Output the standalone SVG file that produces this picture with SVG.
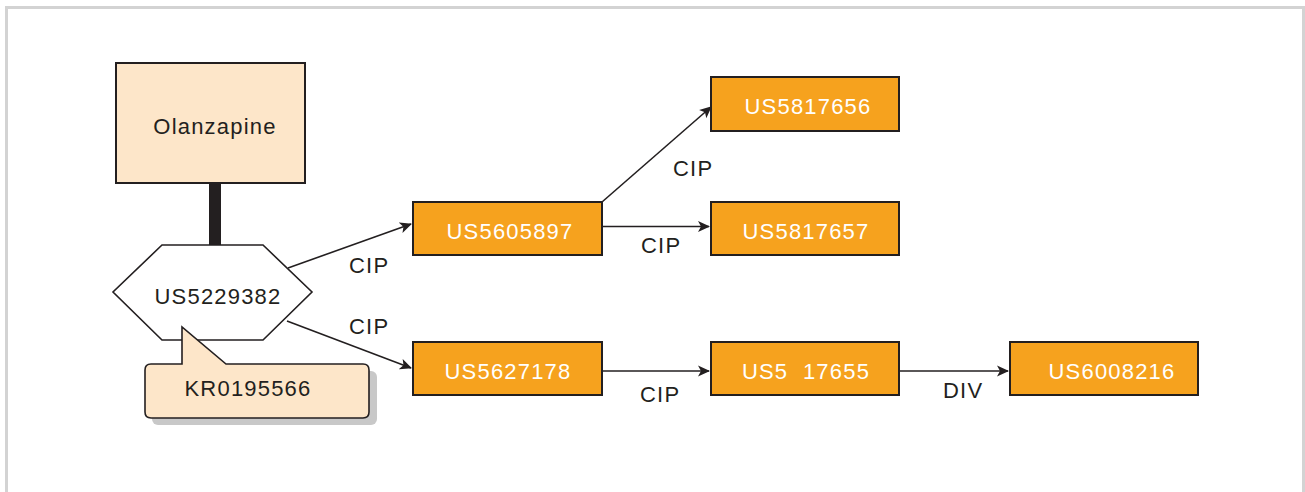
<svg xmlns="http://www.w3.org/2000/svg" width="1305" height="492" viewBox="0 0 1305 492">
  <style>
    .frame { fill: none; stroke: #d3d3d3; stroke-width: 3; }
    .txt { font-family: "Liberation Sans", Arial, sans-serif; font-size: 22px; letter-spacing: 1.2px; fill: #231f20; }
    .wtxt { font-family: "Liberation Sans", Arial, sans-serif; font-size: 22px; letter-spacing: 1.2px; fill: #ffffff; }
    .lbl { font-family: "Liberation Sans", Arial, sans-serif; font-size: 22px; letter-spacing: 1.2px; fill: #231f20; }
    .patent { fill: #f6a21e; stroke: #231f20; stroke-width: 2; }
    .drug { fill: #fde6c9; stroke: #231f20; stroke-width: 2; }
    .edge { fill: none; stroke: #231f20; stroke-width: 1.6; }
  </style>
  <defs>
    <marker id="arrow" viewBox="0 0 12 12" refX="11" refY="6" markerWidth="12" markerHeight="12" markerUnits="userSpaceOnUse" orient="auto">
      <path d="M0,0.5 L12,6 L0,11.5 L3,6 Z" fill="#231f20"/>
    </marker>
  </defs>

  <rect width="1305" height="492" fill="#ffffff"/>
  <!-- outer panel border, open at the bottom -->
  <path class="frame" d="M6.5,492 V7.5 H1303.5 V492"/>

  <!-- connectors -->
  <g id="connectors">
    <rect x="209" y="183" width="12" height="62" fill="#231f20"/>
    <line class="edge" x1="288" y1="268" x2="411" y2="224" marker-end="url(#arrow)"/>
    <line class="edge" x1="287" y1="321" x2="411" y2="368" marker-end="url(#arrow)"/>
    <line class="edge" x1="602" y1="202" x2="711" y2="107" marker-end="url(#arrow)"/>
    <line class="edge" x1="602" y1="226.5" x2="709" y2="226.5" marker-end="url(#arrow)"/>
    <line class="edge" x1="602" y1="371" x2="709" y2="371" marker-end="url(#arrow)"/>
    <line class="edge" x1="899" y1="371" x2="1008" y2="371" marker-end="url(#arrow)"/>
    <text class="lbl" x="349" y="273">CIP</text>
    <text class="lbl" x="349" y="334">CIP</text>
    <text class="lbl" x="673" y="176">CIP</text>
    <text class="lbl" x="641" y="253">CIP</text>
    <text class="lbl" x="640" y="402">CIP</text>
    <text class="lbl" x="943" y="398">DIV</text>
  </g>

  <g id="olanzapine">
    <rect class="drug" x="116" y="63" width="189" height="120"/>
    <text class="txt" x="215" y="134" text-anchor="middle">Olanzapine</text>
  </g>

  <g id="us5229382">
    <polygon points="162,245 263,245 312,292 263,340 162,340 113,292" fill="#ffffff" stroke="#231f20" stroke-width="1.6"/>
    <text class="txt" x="218" y="304" text-anchor="middle">US5229382</text>
  </g>

  <g id="kr0195566">
    <rect x="152" y="371" width="225" height="54" rx="6" fill="#c8c8c8"/>
    <path d="M151,364 H182 V327 L226,364 H363 Q369,364 369,370 V412 Q369,418 363,418 H151 Q145,418 145,412 V370 Q145,364 151,364 Z" fill="#fde6c9" stroke="#231f20" stroke-width="1.6"/>
    <text class="txt" x="248" y="396" text-anchor="middle">KR0195566</text>
  </g>

  <g id="us5605897">
    <rect class="patent" x="413" y="202" width="189" height="53"/>
    <text class="wtxt" x="510" y="239" text-anchor="middle">US5605897</text>
  </g>

  <g id="us5817656">
    <rect class="patent" x="711" y="77" width="188" height="54"/>
    <text class="wtxt" x="808" y="114" text-anchor="middle">US5817656</text>
  </g>

  <g id="us5817657">
    <rect class="patent" x="711" y="202" width="188" height="53"/>
    <text class="wtxt" x="806" y="239" text-anchor="middle">US5817657</text>
  </g>

  <g id="us5627178">
    <rect class="patent" x="413" y="342" width="189" height="53"/>
    <text class="wtxt" x="508" y="379" text-anchor="middle">US5627178</text>
  </g>

  <g id="us5-17655">
    <rect class="patent" x="711" y="342" width="188" height="53"/>
    <text class="wtxt" x="806" y="379" text-anchor="middle" xml:space="preserve">US5  17655</text>
  </g>

  <g id="us6008216">
    <rect class="patent" x="1010" y="342" width="188" height="53"/>
    <text class="wtxt" x="1112" y="379" text-anchor="middle">US6008216</text>
  </g>
</svg>
